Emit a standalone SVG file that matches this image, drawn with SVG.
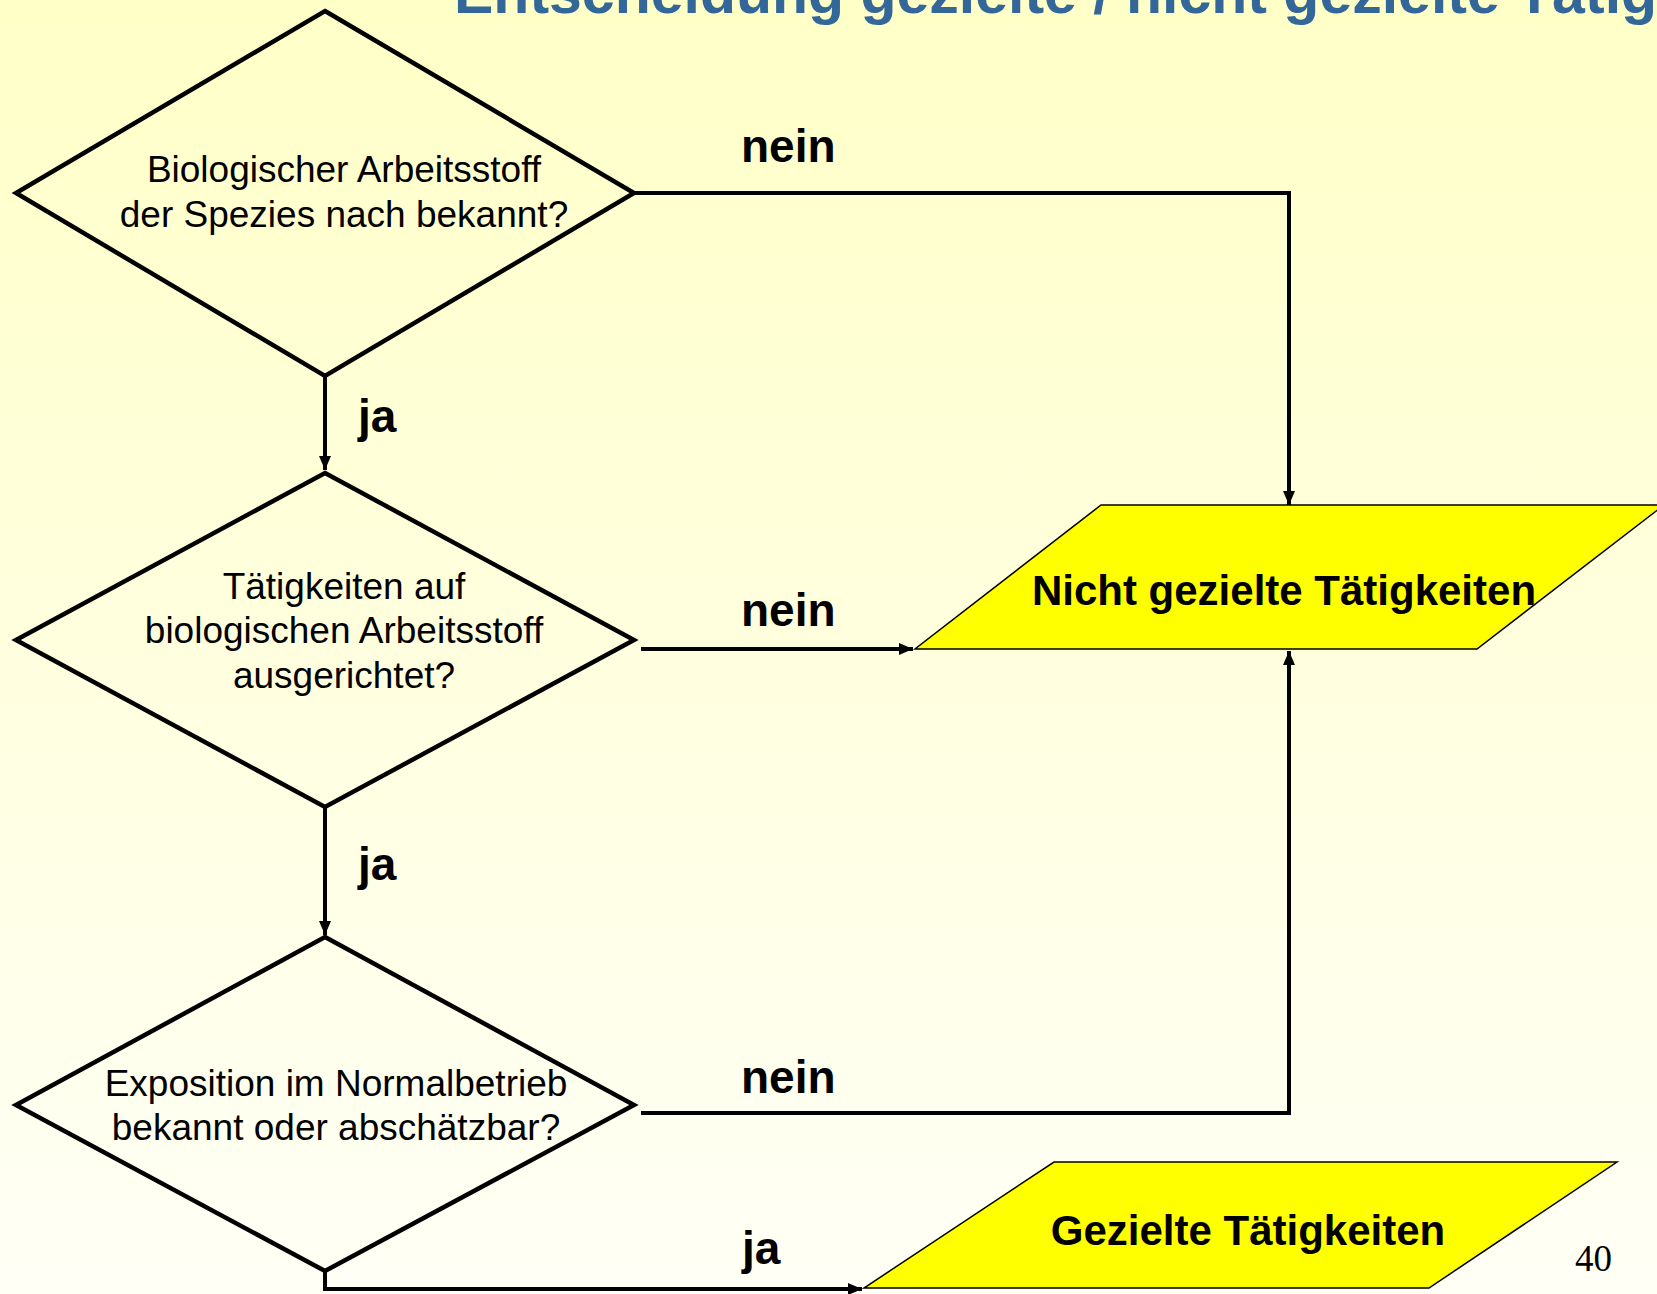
<svg xmlns="http://www.w3.org/2000/svg" width="1657" height="1294" viewBox="0 0 1657 1294">
<defs>
<linearGradient id="bg" x1="0" y1="0" x2="0" y2="1">
<stop offset="0" stop-color="#FFFFC8"/>
<stop offset="1" stop-color="#FFFFF6"/>
</linearGradient>
<marker id="arr" markerUnits="userSpaceOnUse" markerWidth="15" markerHeight="13" refX="14" refY="6" orient="auto">
<path d="M0,0 L14,6 L0,12 z" fill="#000"/>
</marker>
</defs>
<style>
.dia{fill:none;stroke:#000;stroke-width:4.5;stroke-linejoin:miter}
.par{fill:#FFFF00;stroke:#000;stroke-width:1.5}
.q{font-family:"Liberation Sans",Arial,sans-serif;font-size:37px;fill:#000;text-anchor:middle}
.res{font-family:"Liberation Sans",Arial,sans-serif;font-size:42px;font-weight:bold;fill:#000;text-anchor:middle}
.lbl{font-family:"Liberation Sans",Arial,sans-serif;font-size:46px;font-weight:bold;fill:#000}
.con{fill:none;stroke:#000;stroke-width:4;marker-end:url(#arr)}
</style>
<rect width="1657" height="1294" fill="url(#bg)"/>
<text x="454" y="13" font-family="Liberation Sans,Arial,sans-serif" font-size="59" font-weight="bold" fill="#336699">Entscheidung gezielte / nicht gezielte Tätig</text>

<g id="connectors">
<path class="con" d="M634,193 H1289 V505"/>
<path class="con" d="M325,376 V470"/>
<path class="con" d="M641,649 H913"/>
<path class="con" d="M325,807 V935"/>
<path class="con" d="M641,1113 H1289 V651"/>
<path class="con" d="M325,1271 V1289 H862"/>
</g>

<g id="labels">
<text class="lbl" x="741" y="162">nein</text>
<text class="lbl" x="358" y="432">ja</text>
<text class="lbl" x="741" y="626">nein</text>
<text class="lbl" x="358" y="880">ja</text>
<text class="lbl" x="741" y="1093">nein</text>
<text class="lbl" x="742" y="1264">ja</text>
</g>

<g id="q1">
<polygon class="dia" points="325,11 634,193 325,376 16,193"/>
<text class="q" x="344" y="182">Biologischer Arbeitsstoff</text>
<text class="q" x="344" y="227">der Spezies nach bekannt?</text>
</g>

<g id="q2">
<polygon class="dia" points="325,473 634,640 325,807 16,640"/>
<text class="q" x="344" y="599">Tätigkeiten auf</text>
<text class="q" x="344" y="643">biologischen Arbeitsstoff</text>
<text class="q" x="344" y="688">ausgerichtet?</text>
</g>

<g id="q3">
<polygon class="dia" points="325,937 634,1105 325,1271 16,1105"/>
<text class="q" x="336" y="1096">Exposition im Normalbetrieb</text>
<text class="q" x="336" y="1140">bekannt oder abschätzbar?</text>
</g>

<g id="nicht">
<polygon class="par" points="1101,505 1664,505 1477,649 915,649"/>
<text class="res" x="1284" y="605">Nicht gezielte Tätigkeiten</text>
</g>

<g id="gezielt">
<polygon class="par" points="1054,1162 1617,1162 1429,1288 864,1288"/>
<text class="res" x="1248" y="1245">Gezielte Tätigkeiten</text>
</g>

<text x="1575" y="1271" font-family="Liberation Serif,Times New Roman,serif" font-size="37" fill="#000">40</text>
</svg>
